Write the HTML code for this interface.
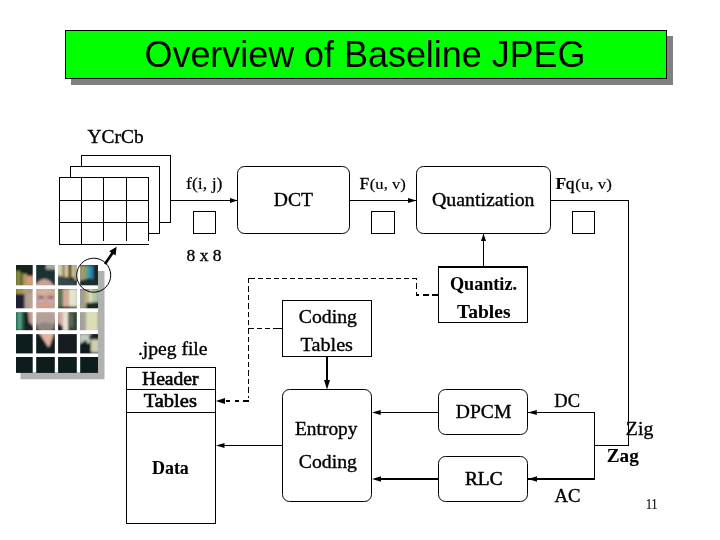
<!DOCTYPE html>
<html>
<head>
<meta charset="utf-8">
<title>Overview of Baseline JPEG</title>
<style>
html,body{margin:0;padding:0;background:#fff;}
body{width:720px;height:540px;overflow:hidden;position:relative;font-family:"Liberation Serif",serif;}
svg{position:absolute;left:0;top:0;display:block;will-change:transform;}
text{font-family:"Liberation Serif",serif;fill:#000;stroke:#000;stroke-width:0.35px;}
.sans{stroke:none;}
[font-weight="bold"]{stroke-width:0.1px;}
.sans{font-family:"Liberation Sans",sans-serif;}
.ln{stroke:#000;stroke-width:1;fill:none;shape-rendering:crispEdges;}
.ln2{stroke:#000;stroke-width:2;fill:none;shape-rendering:crispEdges;}
.bx{stroke:#000;stroke-width:1;fill:#fff;}
.bxc{stroke:#000;stroke-width:1;fill:#fff;shape-rendering:crispEdges;}
.ds{stroke:#000;stroke-width:1;fill:none;stroke-dasharray:5 3;shape-rendering:crispEdges;}
.ds2{stroke:#000;stroke-width:2;fill:none;stroke-dasharray:5 3;shape-rendering:crispEdges;}
.ah{fill:#000;stroke:none;}
</style>
</head>
<body>
<svg width="720" height="540" viewBox="0 0 720 540">
<!-- TITLE -->
<rect x="71" y="36" width="602" height="49" fill="#808080"/>
<rect x="65.5" y="30.5" width="601" height="48" fill="#00ff00" stroke="#000" stroke-width="1" shape-rendering="crispEdges"/>
<text class="sans" x="144.5" y="67" font-size="36" textLength="441" lengthAdjust="spacingAndGlyphs">Overview of Baseline JPEG</text>

<!-- STACKED PLANES -->
<rect class="bxc" x="81.5" y="155.5" width="89" height="67"/>
<rect class="bxc" x="70.5" y="166.5" width="89" height="67"/>
<rect x="59.5" y="177.5" width="89" height="67" fill="#fff"/>
<path class="ln" d="M59.5 177.5V244.5M81.5 177.5V244.5M103.5 177.5V241M126.5 177.5V241M148.5 177.5V241M59 177.5H149M59.5 200.5H148.5M59.5 222.5H148.5M59 244.5H149"/>
<text x="87.6" y="143" font-size="19.2" textLength="56" lengthAdjust="spacingAndGlyphs">YCrCb</text>

<!-- f(i,j) arrow -->
<path class="ln" d="M170.5 200.5H237"/>
<path class="ah" d="M237.5 200.5L230 198V203Z"/>
<text x="186" y="189" font-size="17" style="stroke-width:0.2px" textLength="36.5" lengthAdjust="spacingAndGlyphs">f(i, j)</text>
<rect class="bxc" x="193.5" y="211.5" width="22" height="22"/>
<text x="186.5" y="261" font-size="17" textLength="35" lengthAdjust="spacingAndGlyphs">8 x 8</text>

<!-- DCT -->
<rect class="bx" x="237.5" y="166.5" width="112" height="67" rx="7" ry="7"/>
<text x="273.8" y="205.8" font-size="19" textLength="39.2" lengthAdjust="spacingAndGlyphs">DCT</text>
<path class="ln" d="M349.5 200.5H416"/>
<path class="ah" d="M416.5 200.5L408 198V203Z"/>
<text x="359.6" y="189" font-size="17.5">F</text><text x="369.8" y="189" font-size="15.5" textLength="36" lengthAdjust="spacingAndGlyphs" style="stroke-width:0.2px">(u, v)</text>
<rect class="bxc" x="371.5" y="211.5" width="23" height="22"/>

<!-- Quantization -->
<rect class="bx" x="416.5" y="166.5" width="134" height="67" rx="7" ry="7"/>
<text x="432" y="205.5" font-size="19.2" textLength="102.5" lengthAdjust="spacingAndGlyphs">Quantization</text>
<path class="ln" d="M550.5 200.5H628.5V445.5H594.5M594.5 412.5V480M528 412.5H594.5"/>
<path class="ln2" d="M528 479H595"/>
<text x="555.4" y="189" font-size="17.5" font-weight="bold">F</text><text x="565.8" y="189" font-size="17.5">q</text><text x="575.3" y="189" font-size="15.5" textLength="36.5" lengthAdjust="spacingAndGlyphs" style="stroke-width:0.2px">(u, v)</text>
<rect class="bxc" x="572.5" y="211.5" width="22" height="22"/>

<!-- Quantiz Tables -->
<path class="ln" d="M483.5 233.5V266.5"/>
<path class="ah" d="M483.5 233.5L481 241H486Z"/>
<rect class="bxc" x="438.5" y="266.5" width="89" height="56"/>
<path class="ln2" d="M438 266.5H528"/>
<text x="450" y="290" font-size="19.2" font-weight="bold" textLength="67" lengthAdjust="spacingAndGlyphs">Quantiz.</text>
<text x="457" y="317.5" font-size="19.2" font-weight="bold" textLength="53.5" lengthAdjust="spacingAndGlyphs">Tables</text>

<!-- dashed -->
<path class="ln" d="M416.5 296V278" style="stroke-dasharray:4.3 3 6 3 5"/>
<path class="ln" d="M248 278.5H255"/>
<path class="ln" d="M257.8 278.5H417" style="stroke-dasharray:5.1 3"/>
<path class="ln" d="M248.5 278V398" style="stroke-dasharray:5.4 3"/>
<path class="ln" d="M249 328.5H282.5" style="stroke-dasharray:5 3 5 3 5 3 10 0"/>
<path class="ln2" d="M438 295H416" style="stroke-dasharray:6 3.3"/>
<path class="ln2" d="M249 401H225" style="stroke-dasharray:6 4.5 4 5 3.5 5"/>
<path class="ah" d="M215.8 401L225 398.1V403.9Z"/>

<!-- Coding Tables -->
<rect class="bxc" x="282.5" y="300.5" width="89" height="56"/>
<text x="298.8" y="322.5" font-size="19.2" textLength="58.2" lengthAdjust="spacingAndGlyphs">Coding</text>
<text x="300.5" y="350.5" font-size="19.2" textLength="52.5" lengthAdjust="spacingAndGlyphs">Tables</text>
<path class="ln2" d="M327 356.5V383"/>
<path class="ah" d="M327 389.5L324 380H330Z"/>

<!-- Entropy Coding -->
<rect class="bx" x="282.5" y="389.5" width="89" height="112" rx="7" ry="7"/>
<text x="295" y="435" font-size="19.2" textLength="62.5" lengthAdjust="spacingAndGlyphs">Entropy</text>
<text x="298.8" y="467.5" font-size="19.2" textLength="58.2" lengthAdjust="spacingAndGlyphs">Coding</text>
<path class="ln" d="M282.5 445.5H220"/>
<path class="ah" d="M216 445.5L224.5 443V448Z"/>
<path class="ln" d="M438.5 412.5H378"/>
<path class="ah" d="M372 412.5L380.7 410V415Z"/>
<path class="ln2" d="M438.5 479H378"/>
<path class="ah" d="M372 479L381 476.2V481.8Z"/>

<!-- DPCM / RLC -->
<rect class="bx" x="438.5" y="389.5" width="89" height="45" rx="7" ry="7"/>
<text x="455.8" y="417.5" font-size="19.2" textLength="55.5" lengthAdjust="spacingAndGlyphs">DPCM</text>
<rect class="bx" x="438.5" y="456.5" width="89" height="45" rx="7" ry="7"/>
<text x="465" y="484.5" font-size="19.2" style="stroke-width:0.55px" textLength="37.5" lengthAdjust="spacingAndGlyphs">RLC</text>
<path class="ah" d="M528 412.5L536.8 410V415Z"/>
<path class="ah" d="M528 479L537 476.2V481.8Z"/>
<text x="554.3" y="406.8" font-size="19.2" textLength="25.7" lengthAdjust="spacingAndGlyphs">DC</text>
<text x="554.5" y="502.2" font-size="19.2" textLength="26" lengthAdjust="spacingAndGlyphs">AC</text>
<text x="625.8" y="435.4" font-size="19" textLength="27.5" lengthAdjust="spacingAndGlyphs">Zig</text>
<text x="606.8" y="462.4" font-size="19" font-weight="bold" textLength="32" lengthAdjust="spacingAndGlyphs">Zag</text>
<text x="646" y="509" font-size="14.5" textLength="11.4" style="stroke-width:0.15px" lengthAdjust="spacingAndGlyphs">11</text>

<!-- jpeg file -->
<text x="137.9" y="354.6" font-size="19.5" textLength="69.6" lengthAdjust="spacingAndGlyphs">.jpeg file</text>
<rect class="bxc" x="126.5" y="367.5" width="89" height="156"/>
<path class="ln" d="M126.5 389.5H215.5M126.5 412.5H215.5"/>
<text x="142" y="384.6" font-size="19" textLength="56.5" lengthAdjust="spacingAndGlyphs" style="stroke-width:0.6px">Header</text>
<text x="143.7" y="407" font-size="19" textLength="53.2" lengthAdjust="spacingAndGlyphs" style="stroke-width:0.6px">Tables</text>
<text x="152" y="473.8" font-size="19.2" font-weight="bold" textLength="36.8" lengthAdjust="spacingAndGlyphs">Data</text>

<!-- PHOTO placeholder -->
<g id="photo">
<defs>
<clipPath id="pc"><rect x="16" y="265" width="82" height="107.7"/></clipPath>
<filter id="pb" x="-10%" y="-10%" width="120%" height="120%"><feGaussianBlur stdDeviation="0.9"/></filter>
</defs>
<rect x="20.5" y="271" width="84" height="108.3" fill="#b1b1b1"/>
<rect x="16" y="265" width="82" height="107.7" fill="#14201f"/>
<g clip-path="url(#pc)"><g filter="url(#pb)">
<!-- base dark -->
<rect x="10" y="260" width="95" height="120" fill="#14201f"/>
<!-- top-left books -->
<rect x="16" y="271" width="4" height="22" fill="#8a8a42"/>
<rect x="20" y="273" width="3" height="20" fill="#5c6a30"/>
<rect x="23" y="274" width="4" height="14" fill="#b09868"/>
<rect x="26.5" y="276" width="7" height="10" fill="#d69a76"/>
<rect x="16" y="289" width="7" height="5" fill="#a49444"/>
<rect x="16" y="295" width="9" height="14" fill="#1a2236"/>
<!-- teal stripes r2c0 -->
<rect x="16" y="312" width="3" height="18" fill="#3a8470"/>
<rect x="19" y="312" width="2.5" height="18" fill="#58b090"/>
<rect x="21.5" y="312" width="2.5" height="18" fill="#2a6048"/>
<rect x="24" y="310" width="4" height="22" fill="#182028"/>
<rect x="24.5" y="288" width="9" height="21" fill="#b4a094"/>
<rect x="23" y="288" width="10" height="6" fill="#a89c88"/>
<path d="M28 311H34V327L29 322Z" fill="#c4a292"/>
<rect x="33" y="279" width="6" height="7" fill="#8a5a48"/>
<!-- hair -->
<rect x="35" y="264" width="21" height="19" fill="#1c3232"/>
<rect x="46" y="264" width="10" height="5.5" fill="#a4aca4"/>
<!-- face -->
<ellipse cx="44.5" cy="304" rx="14" ry="25" fill="#c9a295"/>
<ellipse cx="45" cy="292" rx="8" ry="3" fill="#d4b09c"/>
<ellipse cx="41" cy="297.5" rx="3.2" ry="1.8" fill="#8e6e62"/>
<ellipse cx="50.5" cy="297.5" rx="3.2" ry="1.8" fill="#8e6e62"/>
<ellipse cx="41.5" cy="300.5" rx="2" ry="1.5" fill="#c4b4d4"/>
<ellipse cx="50" cy="300.5" rx="2" ry="1.5" fill="#c4b4d4"/>
<ellipse cx="45.5" cy="305" rx="4" ry="2.5" fill="#d49c88"/>
<ellipse cx="45.5" cy="320" rx="10" ry="9" fill="#b4a098"/>
<ellipse cx="45.5" cy="327" rx="9" ry="4.5" fill="#8e867c"/>
<rect x="28" y="326" width="6" height="6" fill="#1a2226"/>
<!-- right of face gap dark -->
<rect x="56" y="283" width="6" height="28" fill="#4c5c48"/>
<!-- r0c2 -->
<rect x="57" y="264" width="21" height="13" fill="#d4d0aa"/>
<rect x="62" y="264" width="3" height="13" fill="#9a8858"/>
<rect x="68" y="264" width="4" height="14" fill="#6e5626"/>
<rect x="74" y="264" width="3" height="16" fill="#a8a480"/>
<path d="M57 275L68 278L78 284V287H57Z" fill="#34464a"/>
<!-- r0c3 -->
<rect x="80" y="264" width="5" height="18" fill="#a8986a"/>
<rect x="85" y="264" width="4" height="18" fill="#5aa294"/>
<rect x="89" y="266" width="4.5" height="17" fill="#2a82b2"/>
<rect x="93.5" y="264" width="5" height="22" fill="#162c26"/>
<path d="M79 281L90 278L99 283V287H79Z" fill="#1a2e2a"/>
<rect x="80" y="264" width="18" height="2" fill="#203430"/>
<!-- r1c2 -->
<rect x="58" y="289" width="5" height="19" fill="#5e7656"/>
<rect x="63" y="289" width="5.5" height="19" fill="#dca898"/>
<rect x="68.5" y="289" width="9" height="19" fill="#e4e4cc"/>
<rect x="58" y="306.6" width="19" height="2" fill="#2a342c"/>
<!-- r1c3 -->
<rect x="80" y="289" width="4.5" height="20" fill="#a0a098"/>
<rect x="84.5" y="289" width="4" height="20" fill="#c8b882"/>
<rect x="88.5" y="289" width="3.5" height="20" fill="#e2dec2"/>
<rect x="92" y="289" width="6.5" height="20" fill="#b2caa2"/>
<path d="M86 303L99 302V310H86Z" fill="#162c26"/>
<!-- r2c2 -->
<rect x="58" y="311" width="5" height="20" fill="#d4ac9c"/>
<rect x="63" y="311" width="5.5" height="20" fill="#e8e0d4"/>
<rect x="68.5" y="311" width="9" height="21" fill="#364636"/>
<rect x="70.5" y="313" width="2" height="14" fill="#707c68"/>
<path d="M57 322L63 327V332H57Z" fill="#1c2426"/>
<!-- r2c3 -->
<rect x="80" y="311" width="5.5" height="21" fill="#a6a69e"/>
<rect x="85.5" y="311" width="13" height="21" fill="#dcdcb6"/>
<!-- r3 -->
<rect x="10" y="333" width="95" height="45" fill="#101c1e"/>
<path d="M38.5 332H54.5L50 345L48.5 347.5Z" fill="#e2b2a2"/>
<rect x="58" y="334" width="19" height="20" fill="#151a22"/>
<!-- r3c3 -->
<path d="M80 334H91L90 343L80 346Z" fill="#c2cac2"/>
<rect x="91" y="339.5" width="8" height="13" fill="#cfcfb0"/>
<rect x="89" y="335.5" width="10" height="3.5" fill="#1c2824"/>
<path d="M80 344L86 340L92 353.5H80Z" fill="#101c1c"/>
<!-- r4 -->
<rect x="10" y="356" width="95" height="20" fill="#0c1e1e"/>
</g></g>
<!-- white grid -->
<g fill="#fff">
<rect x="32.7" y="265" width="3.5" height="107.7"/>
<rect x="54.8" y="265" width="3.3" height="107.7"/>
<rect x="76.8" y="265" width="3.4" height="107.7"/>
<rect x="16" y="285.3" width="82" height="3.7"/>
<rect x="16" y="308.3" width="82" height="3.9"/>
<rect x="16" y="330.2" width="82" height="3.9"/>
<rect x="16" y="353.4" width="82" height="3.6"/>
</g>
</g>

<!-- circle + arrow -->
<circle cx="93.7" cy="275.2" r="17" fill="none" stroke="#000" stroke-width="1"/>
<path d="M105 264L113.5 251.5" stroke="#000" stroke-width="2.6" fill="none"/>
<path class="ah" d="M116.6 246.8L109.2 251.2L115.6 255.6Z"/>
</svg>
</body>
</html>
